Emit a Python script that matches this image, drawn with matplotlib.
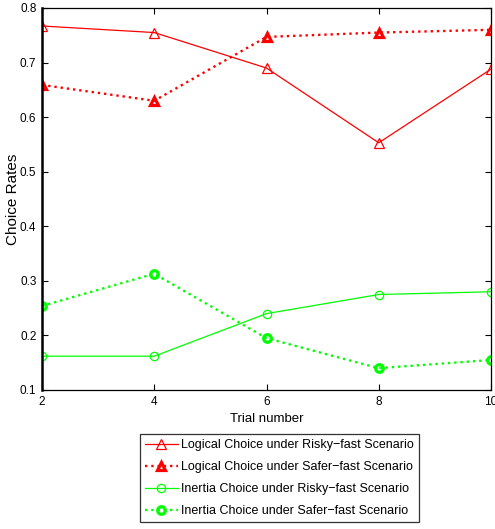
import matplotlib.pyplot as plt

plt.rcParams['font.family'] = ['Liberation Sans', 'DejaVu Sans']

# trial numbers and choice rates
trials = [2, 4, 6, 8, 10]
logical_risky = [0.767, 0.755, 0.690, 0.553, 0.688]
logical_safer = [0.659, 0.630, 0.747, 0.755, 0.760]
inertia_risky = [0.162, 0.162, 0.240, 0.275, 0.280]
inertia_safer = [0.254, 0.313, 0.195, 0.140, 0.155]

labels = ['Logical Choice under Risky\u2212fast Scenario',
          'Logical Choice under Safer\u2212fast Scenario',
          'Inertia Choice under Risky\u2212fast Scenario',
          'Inertia Choice under Safer\u2212fast Scenario']

fig = plt.figure(figsize=(4.95, 5.29), dpi=100)
ax = fig.add_axes([42 / 495, 1 - 390 / 529, 449 / 495, 382 / 529])

ax.plot(trials, logical_risky, '-', color='red', lw=0.9, marker='^',
        ms=6.5, mfc='none', mew=0.9, label=labels[0])
ax.plot(trials, logical_safer, ':', color='red', lw=1.7, marker='^',
        ms=6, mfc='none', mew=2.3, label=labels[1])
ax.plot(trials, inertia_risky, '-', color='#00ff00', lw=0.9, marker='o',
        ms=6, mfc='none', mew=0.9, label=labels[2])
ax.plot(trials, inertia_safer, ':', color='#00ff00', lw=1.7, marker='o',
        ms=5.5, mfc='none', mew=2.3, label=labels[3])

ax.set_xlim(2, 10)
ax.set_ylim(0.1, 0.8)
ax.set_xticks(trials)
ax.set_yticks([0.1, 0.2, 0.3, 0.4, 0.5, 0.6, 0.7, 0.8])
ax.set_yticklabels(['0.1', '0.2', '0.3', '0.4', '0.5', '0.6', '0.7', '0.8'])
ax.tick_params(direction='in', top=True, right=True, length=4, width=0.8,
               labelsize=8.5, pad=4)
for s in ax.spines.values():
    s.set_linewidth(0.9)
ax.spines['left'].set_linewidth(1.8)

ax.set_xlabel('Trial number', fontsize=9.5, labelpad=4)
ax.set_ylabel('Choice Rates', fontsize=11)
ax.yaxis.set_label_coords(-22 / 449, 0.5)

leg = fig.legend(loc='upper left', bbox_to_anchor=(140 / 495, 1 - 434 / 529),
                 fontsize=9, frameon=True, fancybox=False, edgecolor='black',
                 handlelength=2.6, handletextpad=0.3, borderpad=0.4,
                 labelspacing=0.8, borderaxespad=0)
leg.get_frame().set_linewidth(0.9)

fig.savefig('out.png', dpi=100)
